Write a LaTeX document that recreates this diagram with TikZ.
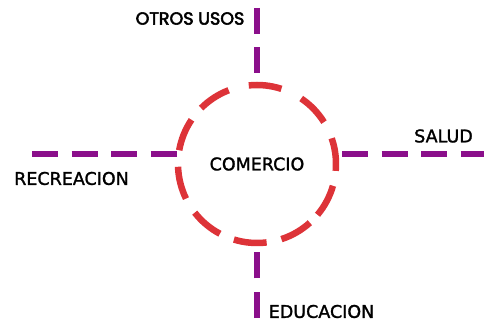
\documentclass[tikz,border=0pt]{standalone}
\usepackage{fontspec}
\setmainfont{DejaVu Sans}
\newfontfamily\comicfont{DejaVu Sans}[FakeBold=1.5]
\newfontfamily\popfont{Poppins}[FakeBold=3]
\definecolor{ringred}{HTML}{DD3338}
\definecolor{linepurple}{HTML}{8B0F8B}
\begin{document}
\begin{tikzpicture}[x=1pt,y=1pt,
  ring/.style={draw=ringred,line width=6.5pt},
  spoke/.style={draw=linepurple,line width=6pt,dash pattern=on 26pt off 13.5pt},
  comic/.style={font=\comicfont\fontsize{17.5}{20}\selectfont,text=black,inner sep=0pt},
  geo/.style={font=\popfont\fontsize{17.5}{20}\selectfont,text=black,inner sep=0pt}]
\useasboundingbox (0,0) rectangle (484,321);
\node[circle,minimum size=158pt,inner sep=0pt,comic] (comercio) at (257,157) {COMERCIO};
\foreach \c in {84,44,7,-28,-60,-95,-130,-166,158,123}
  \draw[ring] ([shift={(\c-12:79pt)}]comercio.center) arc[start angle=\c-12,delta angle=24,radius=79pt];
\coordinate (topend) at (257,313);
\coordinate (botend) at (257,3);
\coordinate (lftend) at (32,166.5);
\coordinate (rgtend) at (484,166.5);
\coordinate (rgtstart) at (342,166.5);
\draw[spoke] (topend) -- (comercio.north);
\draw[spoke] (botend) -- (comercio.south);
\draw[spoke] (lftend) -- (lftend -| comercio.west);
\draw[spoke] (rgtstart) -- (rgtend);
\node[geo] (otros) at (190,302.5) {OTROS USOS};
\node[comic] (recre) at (71.5,142.5) {RECREACION};
\node[comic] (salud) at (443.5,185) {SALUD};
\node[comic] (educ) at (321.5,9.5) {EDUCACION};
\end{tikzpicture}
\end{document}
